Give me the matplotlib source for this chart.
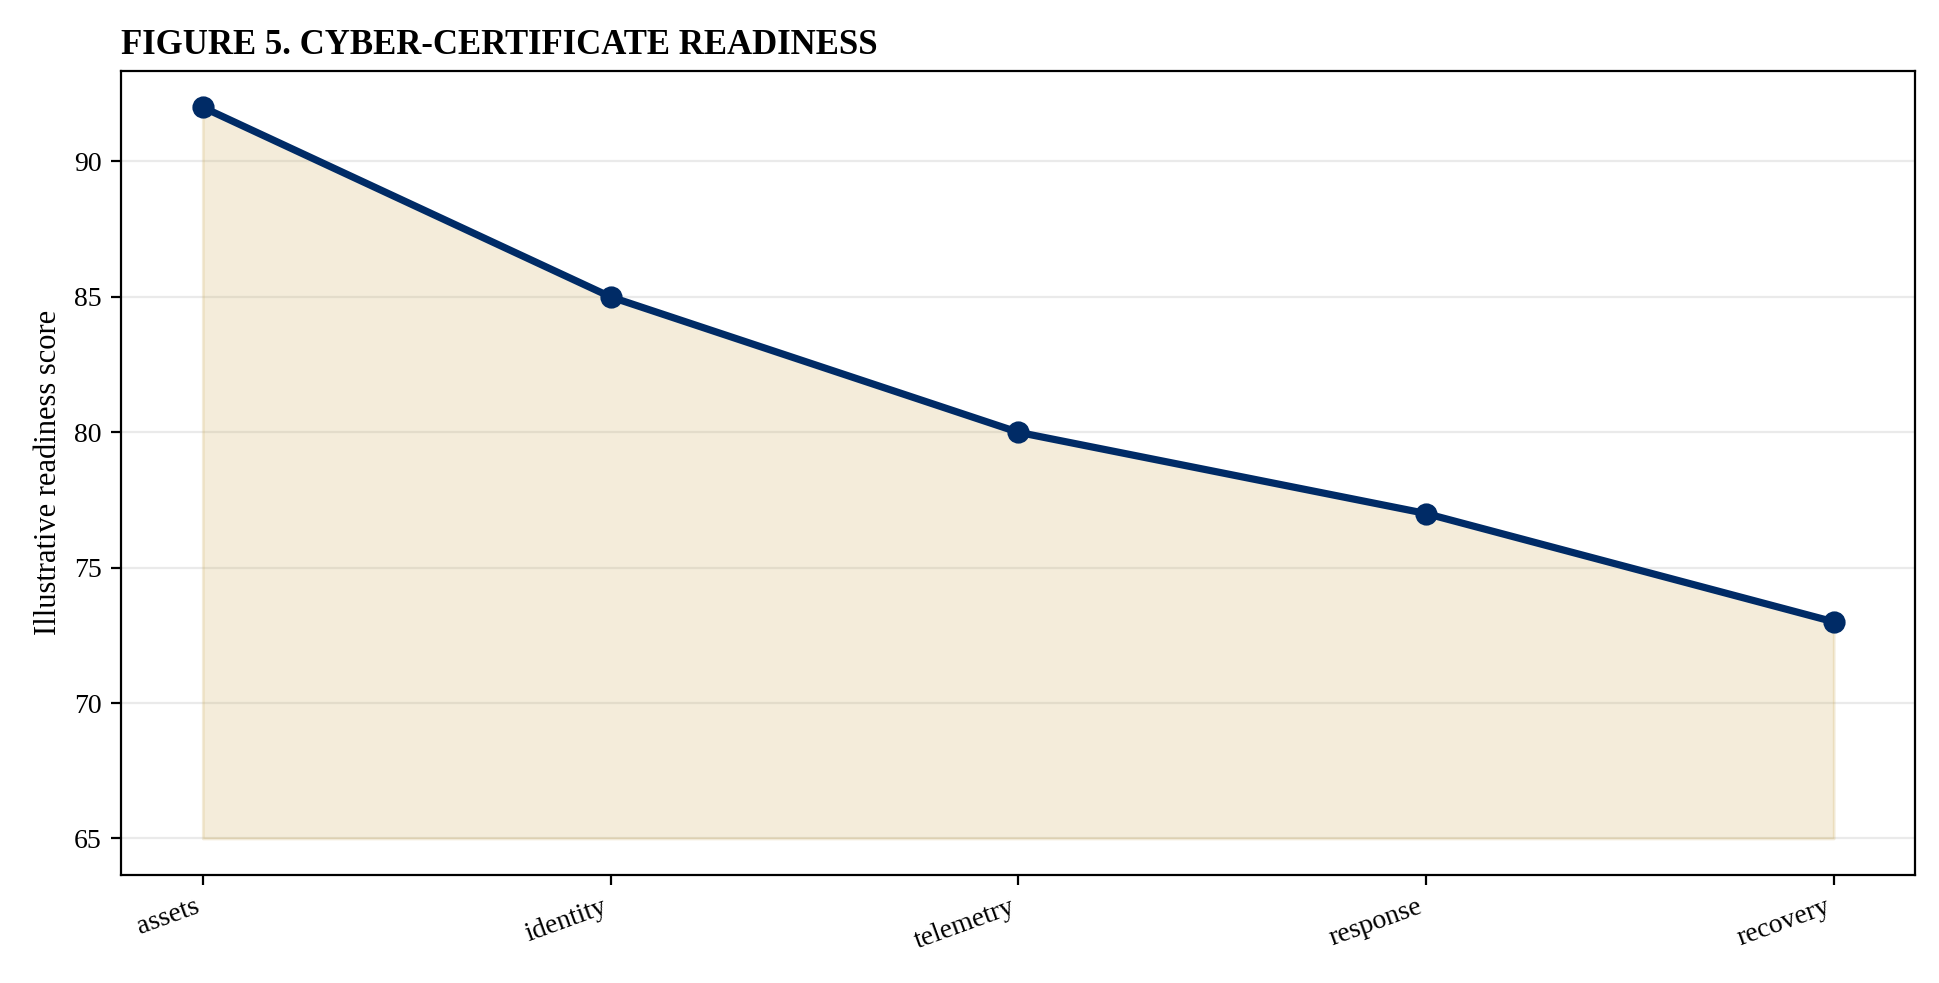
import matplotlib
matplotlib.use("Agg")
import matplotlib.pyplot as plt

categories = ["assets", "identity", "telemetry", "response", "recovery"]
scores = [92, 85, 80, 77, 73]
baseline = 65

plt.rcParams['font.family'] = ['Liberation Serif', 'DejaVu Serif']
fig = plt.figure(figsize=(9.7, 4.915), dpi=200)
W, H = 1568, 792
ax = fig.add_axes([98/W, 1-705/H, (1548-98)/W, (705-57)/H])
x = list(range(len(categories)))
ax.fill_between(x, scores, baseline, color="#c9a44a", alpha=0.2, edgecolor="#c9a44a", linewidth=1)
ax.plot(x, scores, color="#002b66", linewidth=2.6, marker="o", markersize=7)
ax.set_xticks(x)
ax.set_xticklabels(categories, rotation=20, ha="right", fontsize=10)
ax.tick_params(axis='y', labelsize=10)
ax.set_ylabel("Illustrative readiness score", fontsize=11)
ax.grid(axis='y', color="#dddddd", alpha=0.6, linewidth=0.8)
ax.set_axisbelow(True)
ax.set_title("FIGURE 5. CYBER-CERTIFICATE READINESS", loc="left", fontweight="bold", fontsize=12.5)
fig.savefig("out.png", dpi=200)
